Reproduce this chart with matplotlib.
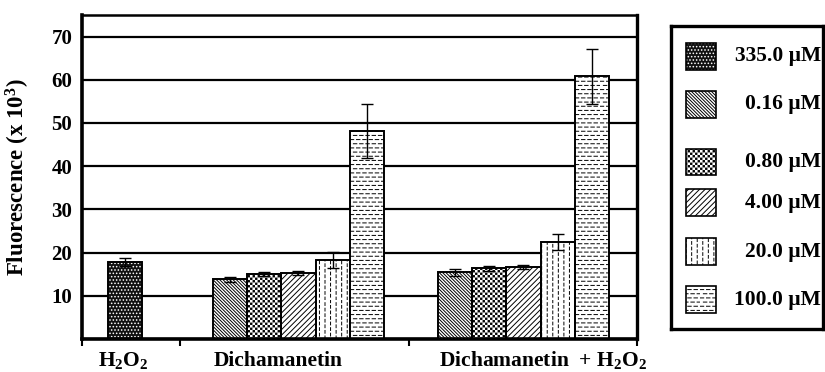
import warnings

import numpy as np
import matplotlib
matplotlib.use("Agg")
import matplotlib.pyplot as plt
import matplotlib.hatch as mhatch
from matplotlib.path import Path
from matplotlib.patches import Rectangle

# custom fill characters are not in matplotlib's list of hatch symbols
warnings.filterwarnings("ignore", category=matplotlib.MatplotlibDeprecationWarning)

# ---------------------------------------------------------------
# data (fluorescence x 10^3, mean +/- error)
# ---------------------------------------------------------------
groups = ["H$_2$O$_2$", "Dichamanetin", "Dichamanetin  + H$_2$O$_2$"]
concentrations = ["335.0 \u00b5M", "0.16 \u00b5M", "0.80 \u00b5M",
                  "4.00 \u00b5M", "20.0 \u00b5M", "100.0 \u00b5M"]

h2o2_mean = [17.9]
h2o2_err = [0.9]

dich_mean = [13.8, 15.0, 15.3, 18.3, 48.1]
dich_err = [0.6, 0.5, 0.5, 1.9, 6.3]

dich_h2o2_mean = [15.4, 16.4, 16.7, 22.5, 60.8]
dich_h2o2_err = [0.8, 0.6, 0.5, 1.9, 6.4]


# ---------------------------------------------------------------
# extra fill patterns: checkerboard, vertical and horizontal dashes
# ---------------------------------------------------------------
class _SegmentHatch(mhatch.HatchPatternBase):
    char = None
    scale = 6

    def __init__(self, hatch, density):
        n = hatch.count(self.char) * self.scale
        self.verts, self.codes = self.build(n) if n else (np.empty((0, 2)), [])
        self.num_vertices = len(self.verts)

    def set_vertices_and_codes(self, vertices, codes):
        vertices[:] = self.verts
        codes[:] = self.codes


class CheckerHatch(_SegmentHatch):
    char = "#"
    scale = 10

    def build(self, n):
        n += n % 2
        d = 1.0 / n
        pad = 0.22 * d   # leaves room for the hatch stroke
        verts, codes = [], []
        for i in range(n):
            for j in range(n):
                if (i + j) % 2:
                    continue
                x0, y0 = i * d + pad, j * d + pad
                x1, y1 = (i + 1) * d - pad, (j + 1) * d - pad
                verts += [(x0, y0), (x1, y0), (x1, y1), (x0, y1), (x0, y0)]
                codes += [Path.MOVETO, Path.LINETO, Path.LINETO,
                          Path.LINETO, Path.CLOSEPOLY]
        return np.array(verts), codes


class VDashHatch(_SegmentHatch):
    char = ":"

    def build(self, n):
        n += n % 2
        verts, codes = [], []
        for i in range(n):
            off = (i % 2) * 0.5 / n
            for j in range(n):
                x = (i + 0.5) / n
                y0 = j / n + off + 0.02 / n
                verts += [(x, y0), (x, y0 + 0.5 / n)]
                codes += [Path.MOVETO, Path.LINETO]
        return np.array(verts), codes


class HDashHatch(_SegmentHatch):
    char = "="
    scale = 8

    def build(self, n):
        n += n % 2
        rows = int(n * 1.5) // 2 * 2
        verts, codes = [], []
        for j in range(rows):
            off = (j % 2) * 0.5 / n
            y = (j + 0.5) / rows
            for i in range(n):
                x0 = i / n + off + 0.04 / n
                verts += [(x0, y), (x0 + 0.55 / n, y)]
                codes += [Path.MOVETO, Path.LINETO]
        return np.array(verts), codes


mhatch._hatch_types.extend([CheckerHatch, VDashHatch, HDashHatch])

# (face colour, hatch colour, hatch) per concentration
styles = [
    ("#111111", "white", "....."),
    ("white", "black", "\\" * 10),
    ("white", "black", "####"),
    ("white", "black", "//////"),
    ("white", "black", ":::"),
    ("white", "black", "=="),
]

plt.rcParams["font.family"] = "Liberation Serif"
plt.rcParams["font.weight"] = "bold"
plt.rcParams["axes.labelweight"] = "bold"
plt.rcParams["mathtext.fontset"] = "custom"
plt.rcParams["mathtext.rm"] = "Liberation Serif:bold"
plt.rcParams["mathtext.it"] = "Liberation Serif:bold"
plt.rcParams["mathtext.bf"] = "Liberation Serif:bold"
plt.rcParams["hatch.linewidth"] = 0.7

fig = plt.figure(figsize=(8.25, 3.72), dpi=100)
ax = fig.add_axes([0.0994, 0.0887, 0.6727, 0.8710])


def draw_bars(ax, left, means, errs, style_ids):
    x = left + 0.5 + np.arange(len(means))
    for xi, m, s in zip(x, means, style_ids):
        face, hcol, pat = styles[s]
        ax.bar(xi, m, width=1.0, color=face, edgecolor=hcol, hatch=pat,
               linewidth=0, zorder=2)
        ax.bar(xi, m, width=1.0, fill=False, edgecolor="black",
               linewidth=1.4, zorder=3)
    ax.errorbar(x, means, yerr=errs, fmt="none", ecolor="black",
                elinewidth=1.0, capsize=4, capthick=1.0, zorder=4)


# left edges of each group, in bar widths
group_left = [0.75, 3.81, 10.37]
draw_bars(ax, group_left[0], h2o2_mean, h2o2_err, [0])
draw_bars(ax, group_left[1], dich_mean, dich_err, [1, 2, 3, 4, 5])
draw_bars(ax, group_left[2], dich_h2o2_mean, dich_h2o2_err, [1, 2, 3, 4, 5])

ax.set_xlim(0, 16.18)
ax.set_ylim(0, 75)

ax.set_yticks(range(0, 71, 10))
ax.set_yticklabels([""] + [str(v) for v in range(10, 71, 10)])
ax.tick_params(axis="y", length=0, pad=7, labelsize=15)
ax.yaxis.grid(True, color="black", linewidth=1.6)
ax.set_axisbelow(True)

ax.set_xticks([0, 2.85, 9.53, 16.18])
ax.set_xticklabels([])
ax.tick_params(axis="x", direction="out", length=5, width=1.5)

for side, lw in [("left", 2.6), ("bottom", 2.6), ("top", 1.8), ("right", 2.4)]:
    ax.spines[side].set_linewidth(lw)

ax.set_ylabel("Fluorescence (x 10$^3$)", fontsize=16.5, fontweight="bold")
ax.yaxis.set_label_coords(-0.09, 0.5)

# group labels under the axis
label_x = [1.2, 5.72, 13.45]
for gx, name in zip(label_x, groups):
    ax.text(gx, -0.083, name, transform=ax.get_xaxis_transform(),
            ha="center", va="baseline", fontsize=15.5)

# ---------------------------------------------------------------
# legend box
# ---------------------------------------------------------------
lax = fig.add_axes([0.8133, 0.1156, 0.1842, 0.8145])
lax.set_xlim(0, 152)
lax.set_ylim(303, 0)
lax.set_xticks([])
lax.set_yticks([])
for sp in lax.spines.values():
    sp.set_linewidth(2.4)

row_y = [30, 78, 136, 177, 226, 274]
for (face, hcol, pat), y, lab in zip(styles, row_y, concentrations):
    lax.add_patch(Rectangle((15, y - 13.5), 30, 27, facecolor=face,
                            edgecolor=hcol, hatch=pat, linewidth=0))
    lax.add_patch(Rectangle((15, y - 13.5), 30, 27, fill=False,
                            edgecolor="black", linewidth=1.2))
    lax.text(150, y, lab, ha="right", va="center", fontsize=15.5)

fig.savefig("out.png", dpi=100)
